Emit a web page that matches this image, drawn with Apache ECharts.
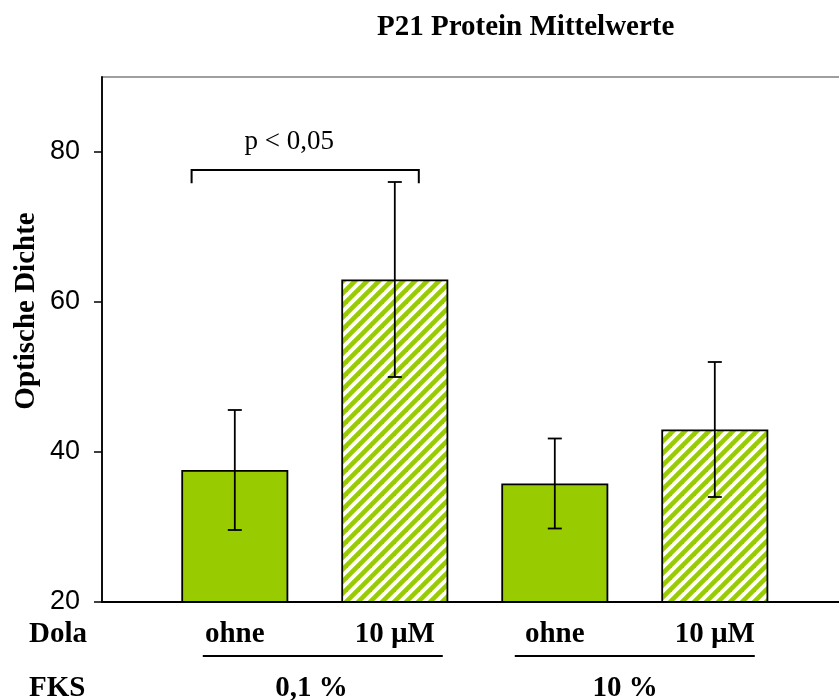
<!DOCTYPE html>
<html>
<head>
<meta charset="utf-8">
<script src="https://cdn.jsdelivr.net/npm/echarts@6/dist/echarts.min.js"></script>
<style>
  html, body { margin: 0; padding: 0; background: #fff; }
  #main { width: 839px; height: 700px; }
</style>
</head>
<body>
<div id="main"></div>
<script>
// ---- data ----
const titleText = 'P21 Protein Mittelwerte';
const yAxisTitle = 'Optische Dichte';
const dolaHeader = 'Dola';
const fksHeader = 'FKS';
const dolaLabels = ['ohne', '10 µM', 'ohne', '10 µM'];
const barPositions = [1, 2, 3, 4];
const meanValues = [37.6, 63.0, 35.8, 43.0];
const errorValues = [8.0, 13.0, 6.0, 9.0];
const hatched = [false, true, false, true];
const fksLabels = ['0,1 %', '10 %'];
const fksSpans = [[0.8, 2.3], [2.75, 4.25]];
const fksLabelPos = [1.48, 3.44];
const yTicks = [20, 40, 60, 80];
const yMin = 20;
const yMax = 90;
const sigLabel = 'p < 0,05';
const sigSpan = [0.73, 2.15];
const sigLevel = 77.6;
const sigDrop = 1.75;
const sigLabelPos = [1.34, 81.3];

// ---- layout ----
const W = 839, H = 700;
const gridLeft = 102, gridRight = -10, gridTop = 77, gridBottom = 98;
const pxPerUnit = 160;
const xMin = 0.17;
const xMax = xMin + (W - gridRight - gridLeft) / pxPerUnit;

const GREEN = '#99CC00';
const SERIF = '"Liberation Serif", "Times New Roman", serif';
const SANS = '"Liberation Sans", Arial, sans-serif';

// diagonal "/" stripe tile for the hatched bars
function stripeTile() {
  const s = 12;
  const c = document.createElement('canvas');
  c.width = s; c.height = s;
  const g = c.getContext('2d');
  g.fillStyle = '#fff';
  g.fillRect(0, 0, s, s);
  g.strokeStyle = GREEN;
  g.lineWidth = 4.6;
  for (const k of [0, s, 2 * s]) {
    g.beginPath();
    g.moveTo(k + 3, -3);
    g.lineTo(k - s - 3, s + 3);
    g.stroke();
  }
  return c;
}
const hatchFill = { image: stripeTile(), repeat: 'repeat' };

const chart = echarts.init(document.getElementById('main'), null, { renderer: 'canvas' });

const option = {
  animation: false,
  backgroundColor: '#fff',
  title: {
    text: titleText,
    left: 377,
    top: 13,
    padding: 0,
    textStyle: { fontFamily: SERIF, fontWeight: 'bold', fontSize: 29, color: '#000' }
  },
  grid: {
    left: gridLeft, right: gridRight, top: gridTop, bottom: gridBottom,
    show: true, borderColor: '#808080', borderWidth: 1.5,
    outerBoundsMode: 'none', containLabel: false
  },
  xAxis: {
    type: 'value',
    min: xMin, max: xMax,
    axisLine: { show: true, onZero: false, lineStyle: { color: '#000', width: 1.8 } },
    axisTick: { show: false },
    splitLine: { show: false },
    axisLabel: {
      customValues: barPositions,
      formatter: v => dolaLabels[barPositions.indexOf(v)],
      fontFamily: SERIF, fontWeight: 'bold', fontSize: 29, color: '#000',
      margin: 18
    }
  },
  yAxis: {
    type: 'value',
    min: yMin, max: yMax,
    axisLine: { show: true, lineStyle: { color: '#000', width: 1.8 } },
    axisTick: { show: true, inside: false, length: 8, customValues: yTicks, lineStyle: { color: '#000', width: 1.5 } },
    splitLine: { show: false },
    axisLabel: {
      customValues: yTicks,
      fontFamily: SANS, fontSize: 27, color: '#000', margin: 22
    }
  },
  series: [
    {
      type: 'bar',
      barWidth: 107,
      data: barPositions.map((x, i) => ({
        value: [x, meanValues[i]],
        itemStyle: { color: hatched[i] ? hatchFill : GREEN }
      })),
      itemStyle: { borderColor: '#000', borderWidth: 1.8 },
      emphasis: { disabled: true },
      z: 2
    },
    {
      // error bars: mean ± error
      type: 'custom',
      encode: { x: 0, y: 1 },
      data: barPositions.map((x, i) => [x, meanValues[i], errorValues[i]]),
      renderItem(params, api) {
        const x = api.value(0), m = api.value(1), e = api.value(2);
        const top = api.coord([x, m + e]);
        const bot = api.coord([x, m - e]);
        const hw = 7;
        const st = { stroke: '#000', lineWidth: 1.8 };
        return {
          type: 'group',
          children: [
            { type: 'line', shape: { x1: top[0], y1: top[1], x2: bot[0], y2: bot[1] }, style: st },
            { type: 'line', shape: { x1: top[0] - hw, y1: top[1], x2: top[0] + hw, y2: top[1] }, style: st },
            { type: 'line', shape: { x1: bot[0] - hw, y1: bot[1], x2: bot[0] + hw, y2: bot[1] }, style: st }
          ]
        };
      },
      z: 5
    },
    {
      // significance bracket
      type: 'custom',
      encode: { x: 0, y: 2 },
      data: [[sigSpan[0], sigSpan[1], sigLevel]],
      renderItem(params, api) {
        const x0 = api.value(0), x1 = api.value(1), y = api.value(2);
        const a = api.coord([x0, y - sigDrop]);
        const b = api.coord([x0, y]);
        const c = api.coord([x1, y]);
        const d = api.coord([x1, y - sigDrop]);
        const t = api.coord(sigLabelPos);
        return {
          type: 'group',
          children: [
            { type: 'polyline', shape: { points: [a, b, c, d] }, style: { stroke: '#000', lineWidth: 2, fill: null } },
            { type: 'text', x: t[0], y: t[1], style: { text: sigLabel, font: '27px ' + SERIF, fill: '#000', align: 'center', verticalAlign: 'middle' } }
          ]
        };
      },
      z: 5
    },
    {
      // FKS groups: underline and group label below the Dola labels
      type: 'custom',
      clip: false,
      encode: { x: 0 },
      data: fksLabels.map((name, i) => [fksSpans[i][0], fksSpans[i][1], fksLabelPos[i]]),
      renderItem(params, api) {
        const p0 = api.coord([api.value(0), yMin]);
        const p1 = api.coord([api.value(1), yMin]);
        const pl = api.coord([api.value(2), yMin]);
        const name = fksLabels[params.dataIndex];
        return {
          type: 'group',
          children: [
            { type: 'line', shape: { x1: p0[0], y1: p0[1] + 54, x2: p1[0], y2: p1[1] + 54 }, style: { stroke: '#000', lineWidth: 2 } },
            { type: 'text', x: pl[0], y: pl[1] + 87, style: { text: name, font: 'bold 29px ' + SERIF, fill: '#000', align: 'center', verticalAlign: 'middle' } }
          ]
        };
      },
      z: 5
    }
  ],
  graphic: [
    { type: 'text', x: 27, y: 311, rotation: Math.PI / 2,
      style: { text: yAxisTitle, font: 'bold 29px ' + SERIF, fill: '#000', align: 'center', verticalAlign: 'middle' } },
    { type: 'text', x: 29, y: 635, style: { text: dolaHeader, font: 'bold 29px ' + SERIF, fill: '#000', verticalAlign: 'middle' } },
    { type: 'text', x: 29, y: 689, style: { text: fksHeader, font: 'bold 29px ' + SERIF, fill: '#000', verticalAlign: 'middle' } }
  ]
};

chart.setOption(option);
</script>
</body>
</html>
